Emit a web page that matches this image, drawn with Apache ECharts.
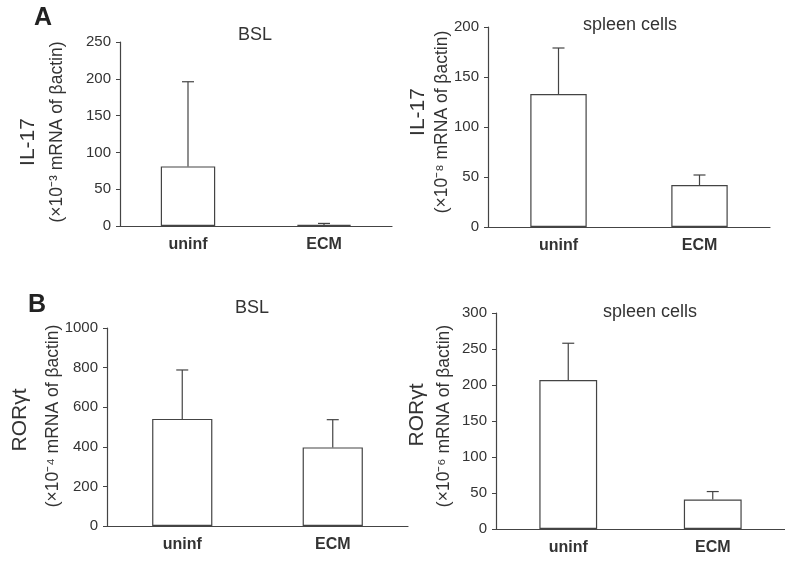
<!DOCTYPE html>
<html>
<head>
<meta charset="utf-8">
<script src="https://cdn.jsdelivr.net/npm/echarts@6/dist/echarts.min.js"></script>
<style>html,body{margin:0;padding:0;background:#fff;}#c{width:785px;height:563px;}</style>
</head>
<body>
<div id="c"></div>
<script>
// ---- data ----
const categories = ['uninf', 'ECM'];
const il17BslMean = [81, 1.5];
const il17BslSD = [115, 2];
const il17SpleenMean = [133, 42];
const il17SpleenSD = [46, 10];
const rorBslMean = [541, 397];
const rorBslSD = [247, 140];
const rorSpleenMean = [207, 41];
const rorSpleenSD = [51, 11];
const yMaxes = [250, 200, 1000, 300];
const yIntervals = [50, 50, 200, 50];
const panelTitles = ['BSL', 'spleen cells', 'BSL', 'spleen cells'];
const geneNames = ['IL-17', 'IL-17', 'RORγt', 'RORγt'];
const unitNames = ['(×10⁻³ mRNA of βactin)', '(×10⁻⁸ mRNA of βactin)', '(×10⁻⁴ mRNA of βactin)', '(×10⁻⁶ mRNA of βactin)'];
const panelLetters = ['A', 'B'];

const means = [il17BslMean, il17SpleenMean, rorBslMean, rorSpleenMean];
const sds = [il17BslSD, il17SpleenSD, rorBslSD, rorSpleenSD];

const FONT = '"Liberation Sans", Arial, sans-serif';
const TXT = '#333';
const LINE = '#444';

const grids = [
  {left: 120, top: 42, width: 272, height: 184},
  {left: 488, top: 27, width: 282, height: 200},
  {left: 107, top: 328, width: 301, height: 198},
  {left: 496, top: 313, width: 300, height: 216}
];

const xAxes = grids.map((g, i) => ({
  type: 'category', gridIndex: i, data: categories,
  axisLine: {lineStyle: {color: LINE, width: 1.2}},
  axisTick: {show: false},
  axisLabel: {fontFamily: FONT, fontSize: 16, fontWeight: 'bold', color: TXT, margin: 11}
}));
const yAxes = grids.map((g, i) => ({
  type: 'value', gridIndex: i, min: 0, max: yMaxes[i], interval: yIntervals[i],
  axisLine: {show: true, lineStyle: {color: LINE, width: 1.2}},
  axisTick: {show: true, length: 4, lineStyle: {color: LINE}},
  splitLine: {show: false},
  axisLabel: {fontFamily: FONT, fontSize: 15, color: TXT, margin: 9, formatter: v => String(v)}
}));

const series = [];
means.forEach((m, i) => {
  series.push({
    type: 'bar', xAxisIndex: i, yAxisIndex: i, data: m, barWidth: '40%',
    itemStyle: {color: '#fff', borderColor: LINE, borderWidth: 1.2},
    silent: true
  });
  series.push({
    type: 'custom', xAxisIndex: i, yAxisIndex: i,
    data: m.map((v, j) => [j, v, v + sds[i][j]]),
    renderItem: function (params, api) {
      const base = api.coord([api.value(0), api.value(1)]);
      const top = api.coord([api.value(0), api.value(2)]);
      const cap = 6;
      const st = {stroke: LINE, lineWidth: 1.2, fill: null};
      return {type: 'group', children: [
        {type: 'line', shape: {x1: base[0], y1: base[1], x2: top[0], y2: top[1]}, style: st},
        {type: 'line', shape: {x1: top[0] - cap, y1: top[1], x2: top[0] + cap, y2: top[1]}, style: st}
      ]};
    },
    z: 3, silent: true
  });
});

const titlePos = [[255, 35], [630, 25], [252, 308], [650, 312]];
const genePos = [[28, 142], [418, 112], [20, 420], [417, 415]];
const unitPos = [[57, 132], [442, 122], [53, 416], [444, 416]];

const graphic = [];
titlePos.forEach((p, i) => graphic.push({type: 'text', x: p[0], y: p[1],
  style: {text: panelTitles[i], font: '18px ' + FONT, fill: TXT, align: 'center', verticalAlign: 'middle'}}));
genePos.forEach((p, i) => graphic.push({type: 'text', x: p[0], y: p[1], rotation: Math.PI / 2,
  style: {text: geneNames[i], font: '21px ' + FONT, fill: TXT, align: 'center', verticalAlign: 'middle'}}));
unitPos.forEach((p, i) => graphic.push({type: 'text', x: p[0], y: p[1], rotation: Math.PI / 2,
  style: {text: unitNames[i], font: '17.5px ' + FONT, fill: TXT, align: 'center', verticalAlign: 'middle'}}));
graphic.push({type: 'text', x: 43, y: 18, style: {text: panelLetters[0], font: 'bold 25px ' + FONT, fill: '#222', align: 'center', verticalAlign: 'middle'}});
graphic.push({type: 'text', x: 37, y: 305, style: {text: panelLetters[1], font: 'bold 25px ' + FONT, fill: '#222', align: 'center', verticalAlign: 'middle'}});

const chart = echarts.init(document.getElementById('c'), null, {renderer: 'canvas'});
chart.setOption({
  animation: false,
  backgroundColor: '#fff',
  grid: grids,
  xAxis: xAxes,
  yAxis: yAxes,
  series: series,
  graphic: graphic
});
</script>
</body>
</html>
